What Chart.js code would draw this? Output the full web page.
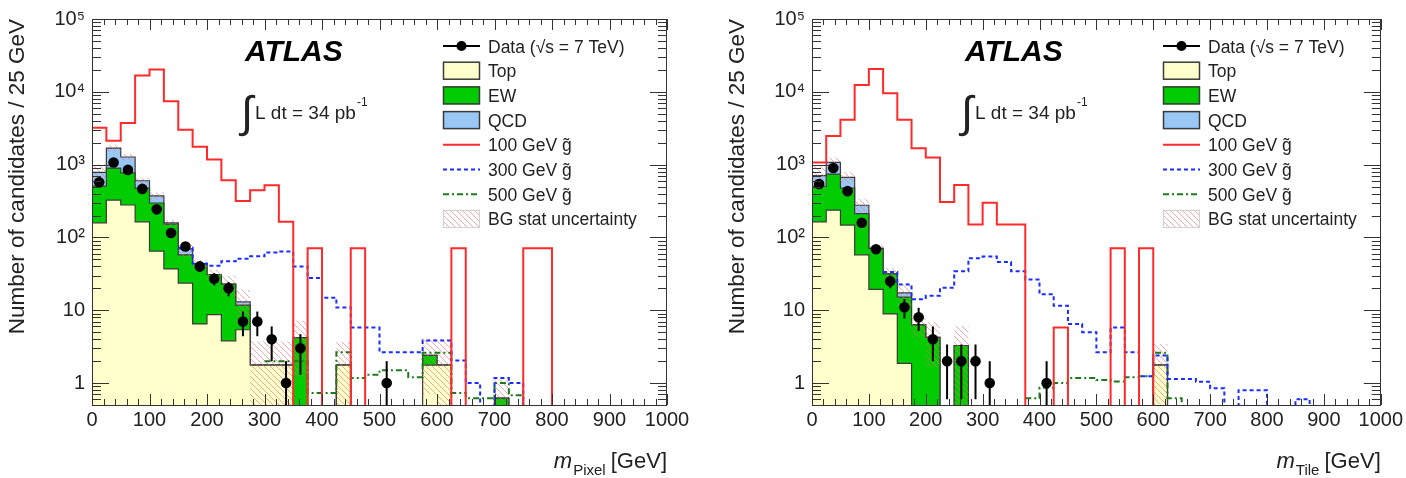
<!DOCTYPE html>
<html><head><meta charset="utf-8">
<script src="https://cdn.jsdelivr.net/npm/chart.js@4.4.0/dist/chart.umd.min.js"></script>
<style>
html,body{margin:0;padding:0;background:#fff;width:1406px;height:478px;overflow:hidden;}
#wl{position:absolute;left:0;top:0;width:720px;height:478px;}
#wr{position:absolute;left:720px;top:0;width:686px;height:478px;}
canvas{display:block;}
</style></head><body>
<div id="wl"><canvas id="cl" width="720" height="478"></canvas></div>
<div id="wr"><canvas id="cr" width="686" height="478"></canvas></div>
<script>
// ---------- bins ----------
const BIN_W = 25;
const binLow = [0,25,50,75,100,125,150,175,200,225,250,275,300,325,350,375,400,425,450,475,
                500,525,550,575,600,625,650,675,700,725,750,775,800,825,850,875,900,925,950,975];
const xTickLabels = [0,100,200,300,400,500,600,700,800,900,1000];
const yTickLabels = {1:'1',10:'10',100:'10\u00B2',1000:'10\u00B3',10000:'10\u2074',100000:'10\u2075'};

// ---------- left panel: m_Pixel ----------
const pixelTop = [159,326,279,164,65,37,23.6,6.5,8.7,3.8, 5.4,1.76,1.76,1.76,0,0,0,1.76,0,0, 0,0,0,1.76,1.76,0,0,0,0,0, 0,0,0,0,0,0,0,0,0,0];
const pixelEW  = [347,570,492,311,232,115,34,37,22.3,19.1, 6.4,0,0,0,4.2,0,0,0,0,0, 0,0,0,0.64,0,0,0,0,0.62,0, 0,0,0,0,0,0,0,0,0,0];
const pixelQCD = [277,791,502,126,76,7,12,0,0,0, 1.2,0,0,0,0,0,0,0,0,0, 0,0,0,0,0,0,0,0,0,0, 0,0,0,0,0,0,0,0,0,0];
const pixelBGErr = [230,170,130,65,45,16,16,6,5,7, 6,2.0,2.0,2.0,3.0,0,0,1.9,0,0, 0,0,0,1.7,2.3,0,0,0,0.5,0, 0,0,0,0,0,0,0,0,0,0];
const pixelData = [573,1072,847,464,243,115,75,40,27,20, 7,7,4,1,3,0,0,0,0,0, 1,0,0,0,0,0,0,0,0,0, 0,0,0,0,0,0,0,0,0,0];
const pixelDataErr = [23.9,32.7,29.1,21.5,15.6,10.7,8.7,6.3,5.2,4.5, 2.6,2.6,2.0,1.0,1.7,0,0,0,0,0, 1.0,0,0,0,0,0,0,0,0,0, 0,0,0,0,0,0,0,0,0,0];
const pixelSig100 = [3200,2133,3740,16800,20300,7450,3010,1765,1178,610, 316,446,521,164,0,71,0,0,71,0, 0,0,0,0,0,71,0,0,0,0, 71,71,0,0,0,0,0,0,0,0];
const pixelSig300 = [null,null,null,null,null,null,72,44,41,47, 51,55,62,64,40,27.8,14.9,10.9,5.8,5.8, 2.66,2.66,2.66,3.84,3.84,2.05,1.0,0,1.17,1.0, 0,0,0,0,0,0,0,0,0,0];
const pixelSig500 = [null,null,null,null,null,null,null,null,null,null, null,null,2.0,2.0,2.0,0.73,0.73,2.66,1.17,1.3, 1.5,1.5,1.2,2.6,2.6,0.73,0.62,0.62,1.0,0.68, 0,0,0,0,0,0,0,0,0,0];

// ---------- right panel: m_Tile ----------
const tileTop = [164,237,148,57.8,19.4,8.9,1.87,0,0,0, 0,0,0,0,0,0,0,0,0,0, 0,0,0,0,1.76,0,0,0,0,0, 0,0,0,0,0,0,0,0,0,0];
const tileEW  = [341,506,327,154,51.6,22.8,13.3,6.3,4.25,0, 3.28,0,0,0,0,0,0,0,0,0, 0,0,0,0,0,0,0,0,0,0, 0,0,0,0,0,0,0,0,0,0];
const tileQCD = [201,329,195,65,0,0,2.2,0,0,0, 0,0,0,0,0,0,0,0,0,0, 0,0,0,0,0,0,0,0,0,0, 0,0,0,0,0,0,0,0,0,0];
const tileBGErr = [260,180,113,63,8,6,6.4,2,2.6,0, 2.8,0,0,0,0,0,0,0,0,0, 0,0,0,0,1.7,0,0,0,0,0, 0,0,0,0,0,0,0,0,0,0];
const tileData = [543,901,432,159,69,25,11,8,4,2, 2,2,1,0,0,0,1,0,0,0, 0,0,0,0,0,0,0,0,0,0, 0,0,0,0,0,0,0,0,0,0];
const tileDataErr = [23.3,30,20.8,12.6,8.3,5,3.3,2.8,2,1.4, 1.4,1.4,1,0,0,0,1,0,0,0, 0,0,0,0,0,0,0,0,0,0, 0,0,0,0,0,0,0,0,0,0];
const tileSig100 = [1072,2472,4150,12400,20500,9570,4150,1675,1253,306, 526,151,300,151,151,0,0,5.8,0,0, 0,71,0,71,0,0,0,0,0,0, 0,0,0,0,0,0,0,0,0,0];
const tileSig300 = [null,null,null,null,null,33.5,22.6,14.2,15.8,20.3, 34.3,52,54.6,46,34.3,26.5,16.6,11.5,6.5,5.0, 2.66,5.8,2.66,1.24,2.4,1.14,1.14,1.04,0.85,0, 0.8,0.8,0,0,0.6,0,0,0,0,0];
const tileSig500 = [null,null,null,null,null,null,null,null,null,null, null,null,null,null,null,0.62,0.86,1.0,1.17,1.17, 1.1,1.05,1.2,1.24,2.6,0.62,0,0,0,0, 0,0,0,0,0,0,0,0,0,0];

// ---------- styles ----------
const FONT = '"Liberation Sans", Arial, Helvetica, sans-serif';
const C_TOP = '#ffffcc', C_EW = '#00cc00', C_QCD = '#99c8f5';
const C_RED = '#ff2a2a', C_BLUE = '#1a2cff', C_DKG = '#1c7a1c', OUT = '#3a3a3a', TXT = '#222';
const FLOOR = 0.01;

function makeHatch(){
  const s = 6, c = document.createElement('canvas'); c.width = s; c.height = s;
  const g = c.getContext('2d');
  g.strokeStyle = 'rgba(240,110,110,0.6)'; g.lineWidth = 1;
  g.beginPath();
  g.moveTo(-1,-1); g.lineTo(s+1,s+1);
  g.moveTo(-1,s-1); g.lineTo(1,s+1);
  g.moveTo(s-1,-1); g.lineTo(s+1,1);
  g.stroke();
  return g.createPattern(c,'repeat');
}
const HATCH = makeHatch();

function pos(v){ return v > 0 ? v : FLOOR; }
function stepPts(vals){
  const pts = vals.map((v,i)=>({x: binLow[i], y: v === null ? null : pos(v)}));
  const last = vals[vals.length-1];
  pts.push({x: binLow[binLow.length-1] + BIN_W, y: last === null ? null : pos(last)});
  return pts;
}
function sumArr(...arrs){ return arrs[0].map((_,i)=>arrs.reduce((s,a)=>s+a[i],0)); }

function panelPlugin(p){
  return {
    id: 'panel_' + p.sub,
    afterDatasetsDraw(chart){
      const {ctx, chartArea: a} = chart, xs = chart.scales.x, ys = chart.scales.y;
      // data error bars
      ctx.save();
      ctx.beginPath(); ctx.rect(a.left, a.top, a.right-a.left, a.bottom-a.top); ctx.clip();
      ctx.strokeStyle = '#000'; ctx.lineWidth = 2;
      p.data.forEach((n,i)=>{
        if (!(n > 0)) return;
        const e = p.dataErr[i];
        const px = xs.getPixelForValue(binLow[i] + BIN_W/2);
        const yHi = ys.getPixelForValue(n + e);
        const yLo = (n - e) > 0 ? ys.getPixelForValue(n - e) : a.bottom;
        ctx.beginPath(); ctx.moveTo(px, yLo); ctx.lineTo(px, yHi); ctx.stroke();
      });
      ctx.restore();
      // frame + inward ticks on all sides
      ctx.save();
      ctx.strokeStyle = '#333'; ctx.lineWidth = 1;
      ctx.beginPath();
      for (let v = 0; v <= 1000; v += 20){
        const px = Math.round(xs.getPixelForValue(v)) + 0.5;
        const len = (v % 100 === 0) ? 11 : 6;
        ctx.moveTo(px, a.bottom); ctx.lineTo(px, a.bottom - len);
        ctx.moveTo(px, a.top); ctx.lineTo(px, a.top + len);
      }
      for (let k = -1; k <= 5; k++){
        for (let m = 1; m <= 9; m++){
          const v = m * Math.pow(10, k);
          if (v < 0.5 - 1e-9 || v > 1e5 + 1e-6) continue;
          const py = Math.round(ys.getPixelForValue(v)) + 0.5;
          const len = (m === 1) ? 17 : 9;
          ctx.moveTo(a.left, py); ctx.lineTo(a.left + len, py);
          ctx.moveTo(a.right, py); ctx.lineTo(a.right - len, py);
        }
      }
      ctx.stroke();
      ctx.strokeRect(Math.round(a.left)+0.5, Math.round(a.top)+0.5, Math.round(a.right-a.left)-1, Math.round(a.bottom-a.top));
      ctx.restore();
    },
    afterDraw(chart){
      const {ctx, chartArea: a} = chart;
      ctx.save();
      ctx.fillStyle = '#000';
      ctx.textBaseline = 'alphabetic';
      ctx.textAlign = 'left';
      // ATLAS
      ctx.font = 'italic bold 30px ' + FONT;
      ctx.fillText('ATLAS', a.left + 153, 61);
      // luminosity
      ctx.fillStyle = TXT;
      ctx.font = '44px ' + FONT;
      ctx.fillText('\u222B', a.left + 149, 127);
      ctx.font = '19px ' + FONT;
      const lt = 'L dt = 34 pb';
      ctx.fillText(lt, a.left + 163, 119);
      const lw = ctx.measureText(lt).width;
      ctx.font = '12px ' + FONT;
      ctx.fillText('-1', a.left + 163 + lw + 1, 106);
      // legend
      const sx1 = a.left + 351, sx2 = a.left + 388, tx = a.left + 396;
      const y0 = 46, dy = 24.7;
      const rows = ['Data (\u221As = 7 TeV)','Top','EW','QCD','100 GeV g\u0303','300 GeV g\u0303','500 GeV g\u0303','BG stat uncertainty'];
      rows.forEach((label, r)=>{
        const cy = y0 + r*dy;
        ctx.save();
        if (r === 0){
          ctx.strokeStyle = '#000'; ctx.lineWidth = 2;
          ctx.beginPath(); ctx.moveTo(sx1, cy); ctx.lineTo(sx2, cy); ctx.stroke();
          ctx.fillStyle = '#000'; ctx.beginPath(); ctx.arc((sx1+sx2)/2, cy, 5, 0, Math.PI*2); ctx.fill();
        } else if (r >= 1 && r <= 3){
          ctx.fillStyle = [C_TOP, C_EW, C_QCD][r-1];
          ctx.fillRect(sx1, cy-9, sx2-sx1, 18);
          ctx.strokeStyle = OUT; ctx.lineWidth = 1.5;
          ctx.strokeRect(sx1+0.5, cy-9+0.5, sx2-sx1-1, 17);
        } else if (r >= 4 && r <= 6){
          ctx.strokeStyle = [C_RED, C_BLUE, C_DKG][r-4]; ctx.lineWidth = 2;
          ctx.setLineDash([[], [4,3], [6,3,2,3]][r-4]);
          ctx.beginPath(); ctx.moveTo(sx1, cy); ctx.lineTo(sx2, cy); ctx.stroke();
        } else {
          ctx.fillStyle = HATCH;
          ctx.fillRect(sx1, cy-9, sx2-sx1, 18);
          ctx.strokeStyle = '#d0d0d0'; ctx.lineWidth = 1;
          ctx.strokeRect(sx1+0.5, cy-9+0.5, sx2-sx1-1, 17);
        }
        ctx.restore();
        ctx.fillStyle = TXT;
        ctx.font = '17.5px ' + FONT;
        ctx.fillText(label, tx, cy + 6.5);
      });
      // x-axis title: m_sub [GeV], right aligned
      const main = '22px ' + FONT, it = 'italic 22px ' + FONT, sm = '15px ' + FONT;
      ctx.font = it; const wm = ctx.measureText('m').width;
      ctx.font = sm; const ws = ctx.measureText(p.sub).width;
      ctx.font = main; const wg = ctx.measureText(' [GeV]').width;
      let x = a.right - (wm + ws + wg);
      ctx.font = it; ctx.fillText('m', x, 468); x += wm + 1;
      ctx.font = sm; ctx.fillText(p.sub, x, 475); x += ws - 1;
      ctx.font = main; ctx.fillText(' [GeV]', x, 468);
      ctx.restore();
    }
  };
}

function buildChart(canvasId, p, padRight){
  const cumTop = p.top;
  const cumEW = sumArr(p.top, p.ew);
  const cumTot = sumArr(p.top, p.ew, p.qcd);
  const bandLo = cumTot.map((t,i)=> t - p.err[i]);
  const bandHi = cumTot.map((t,i)=> (t > 0 || p.err[i] > 0) ? t + p.err[i] : 0);
  const base = {type:'line', stepped:'before', pointRadius:0, pointHoverRadius:0, clip:0,
                spanGaps:false, tension:0, borderJoinStyle:'miter', borderCapStyle:'butt'};
  const dataPts = [];
  p.data.forEach((n,i)=>{ if (n > 0) dataPts.push({x: binLow[i] + BIN_W/2, y: n}); });
  const datasets = [
    {...base, label:'QCD', data: stepPts(cumTot), borderColor: OUT, borderWidth:1.2, backgroundColor: C_QCD, fill:'start', order:9},
    {...base, label:'EW',  data: stepPts(cumEW),  borderColor: OUT, borderWidth:1.2, backgroundColor: C_EW,  fill:'start', order:8},
    {...base, label:'Top', data: stepPts(cumTop), borderColor: OUT, borderWidth:1.2, backgroundColor: C_TOP, fill:'start', order:7},
    {...base, label:'bandLo', data: stepPts(bandLo), borderColor:'rgba(0,0,0,0)', borderWidth:0, fill:false, order:6},
    {...base, label:'BG stat uncertainty', data: stepPts(bandHi), borderColor:'rgba(0,0,0,0)', borderWidth:0, backgroundColor: HATCH, fill:'-1', order:5},
    {...base, label:'500 GeV', data: stepPts(p.s500), borderColor: C_DKG, borderWidth:2, borderDash:[6,3,2,3], fill:false, order:4},
    {...base, label:'300 GeV', data: stepPts(p.s300), borderColor: C_BLUE, borderWidth:2, borderDash:[4,3], fill:false, order:3},
    {...base, label:'100 GeV', data: stepPts(p.s100), borderColor: C_RED, borderWidth:2, fill:false, order:2},
    {type:'line', label:'Data', data: dataPts, showLine:false, pointRadius:5.3, pointHoverRadius:5.3,
     pointBackgroundColor:'#000', pointBorderColor:'#000', pointBorderWidth:0, clip:0, order:0}
  ];
  return new Chart(document.getElementById(canvasId), {
    data: {datasets},
    options: {
      responsive:false, animation:false, devicePixelRatio:1,
      events: [],
      layout: {autoPadding:false, padding:{left:0, top:15, right:padRight, bottom:0}},
      plugins: {legend:{display:false}, tooltip:{enabled:false}},
      scales: {
        x: {
          type:'linear', min:0, max:1000,
          afterFit: s => { s.height = 73; },
          grid:{display:false, drawTicks:false}, border:{display:false},
          ticks:{stepSize:100, autoSkip:false, maxRotation:0, padding:3, color:TXT, font:{size:20, family:FONT},
                 callback: v => xTickLabels.includes(v) ? String(v) : ''}
        },
        y: {
          type:'logarithmic', min:0.5, max:100000,
          afterFit: s => { s.width = 92; },
          grid:{display:false, drawTicks:false}, border:{display:false},
          ticks:{autoSkip:false, padding:7, color:TXT, font:{size:20, family:FONT},
                 callback: v => {
                   const l = Math.log10(v), r = Math.round(l);
                   return Math.abs(l - r) < 1e-6 && yTickLabels[Math.pow(10, r)] ? yTickLabels[Math.pow(10, r)] : '';
                 }},
          title:{display:true, text:'Number of candidates / 25 GeV', align:'end', color:TXT,
                 font:{size:22.5, family:FONT}, padding:{top:4, bottom:0}}
        }
      }
    },
    plugins: [panelPlugin(p)]
  });
}

buildChart('cl', {sub:'Pixel', top:pixelTop, ew:pixelEW, qcd:pixelQCD, err:pixelBGErr,
  data:pixelData, dataErr:pixelDataErr, s100:pixelSig100, s300:pixelSig300, s500:pixelSig500}, 53);
buildChart('cr', {sub:'Tile', top:tileTop, ew:tileEW, qcd:tileQCD, err:tileBGErr,
  data:tileData, dataErr:tileDataErr, s100:tileSig100, s300:tileSig300, s500:tileSig500}, 20);
</script>
</body></html>
